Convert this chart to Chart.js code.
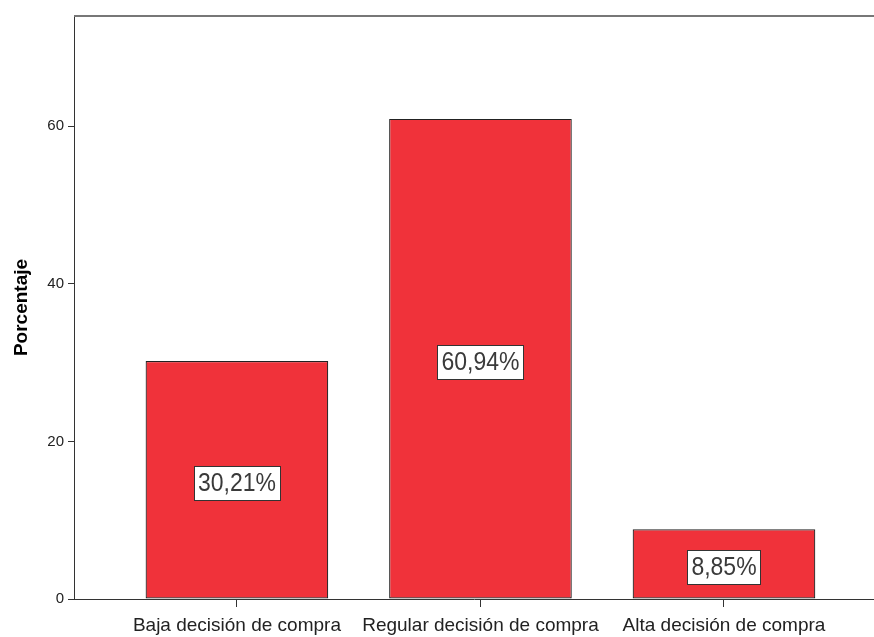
<!DOCTYPE html>
<html>
<head>
<meta charset="utf-8">
<script src="https://cdn.jsdelivr.net/npm/chart.js@4"></script>
<style>
  html, body { margin: 0; padding: 0; background: #fff; }
  canvas { display: block; }
</style>
</head>
<body>
<canvas id="barChart" width="874" height="637"></canvas>
<script>
const categories = ['Baja decisión de compra', 'Regular decisión de compra', 'Alta decisión de compra'];
const percentages = [30.21, 60.94, 8.85];
const yTicks = [0, 20, 40, 60];

const FONT = '"Liberation Sans", Arial, sans-serif';

// white boxed % labels in the middle of each bar
const boxLabels = {
    id: 'boxLabels',
    afterDatasetsDraw(chart) {
        const ctx = chart.ctx;
        const meta = chart.getDatasetMeta(0);
        ctx.save();
        ctx.font = '23px ' + FONT;
        ctx.textAlign = 'center';
        ctx.textBaseline = 'middle';
        meta.data.forEach((bar, i) => {
            const txt = percentages[i].toFixed(2).replace('.', ',') + '%';
            const w = Math.round(ctx.measureText(txt).width + 8);
            const h = 34;
            const cy = (bar.y + bar.base) / 2 + 3;
            const x0 = Math.round(bar.x - w / 2) + 0.5;
            const y0 = Math.round(cy - h / 2) + 0.5;
            ctx.fillStyle = '#fff';
            ctx.fillRect(x0, y0, w, h);
            ctx.strokeStyle = '#333';
            ctx.lineWidth = 1;
            ctx.strokeRect(x0, y0, w, h);
            ctx.fillStyle = '#3a3a3a';
            // text in the picture is a bit taller than wide
            ctx.translate(bar.x, cy + 1);
            ctx.scale(1, 1.12);
            ctx.fillText(txt, 0, 0);
            ctx.setTransform(1, 0, 0, 1, 0, 0);
        });
        ctx.restore();
    }
};

// gray line along the top of the plot
const topLine = {
    id: 'topLine',
    afterDraw(chart) {
        const a = chart.chartArea;
        const ctx = chart.ctx;
        ctx.save();
        ctx.strokeStyle = '#777';
        ctx.lineWidth = 2;
        ctx.beginPath();
        ctx.moveTo(a.left, a.top);
        ctx.lineTo(a.right, a.top);
        ctx.stroke();
        ctx.restore();
    }
};

new Chart(document.getElementById('barChart'), {
    type: 'bar',
    data: {
        datasets: [{
            data: percentages.map((v, i) => ({ x: i, y: v })),
            backgroundColor: '#F0323A',
            borderColor: '#222',
            borderWidth: 1.2,
            borderSkipped: false,
            barPercentage: 0.75,
            categoryPercentage: 1
        }]
    },
    options: {
        responsive: false,
        animation: false,
        layout: { padding: { top: 16, right: 0, left: 0, bottom: 0 } },
        plugins: {
            legend: { display: false },
            tooltip: { enabled: false }
        },
        scales: {
            x: {
                type: 'linear',
                offset: false,
                min: -0.669,
                max: 2.616,
                afterBuildTicks: (s) => { s.ticks = categories.map((c, i) => ({ value: i })); },
                afterFit: (s) => { s.height = 38; },
                ticks: {
                    callback: (v) => categories[v],
                    color: '#222',
                    font: { family: FONT, size: 19 },
                    padding: 7,
                    maxRotation: 0,
                    autoSkip: false
                },
                grid: { drawOnChartArea: false, drawTicks: true, tickLength: 8, color: '#333', offset: false },
                border: { color: '#333', width: 1 }
            },
            y: {
                min: 0,
                max: 74,
                afterBuildTicks: (s) => { s.ticks = yTicks.map(v => ({ value: v })); },
                afterFit: (s) => { s.width = 74; },
                ticks: {
                    color: '#222',
                    font: { family: FONT, size: 15 },
                    padding: 4
                },
                title: {
                    display: true,
                    text: 'Porcentaje',
                    color: '#000',
                    font: { family: FONT, size: 19, weight: 'bold' },
                    padding: { top: 10, bottom: 0 }
                },
                grid: { drawOnChartArea: false, drawTicks: true, tickLength: 6, color: '#333' },
                border: { color: '#333', width: 1 }
            }
        }
    },
    plugins: [boxLabels, topLine]
});
</script>
</body>
</html>
